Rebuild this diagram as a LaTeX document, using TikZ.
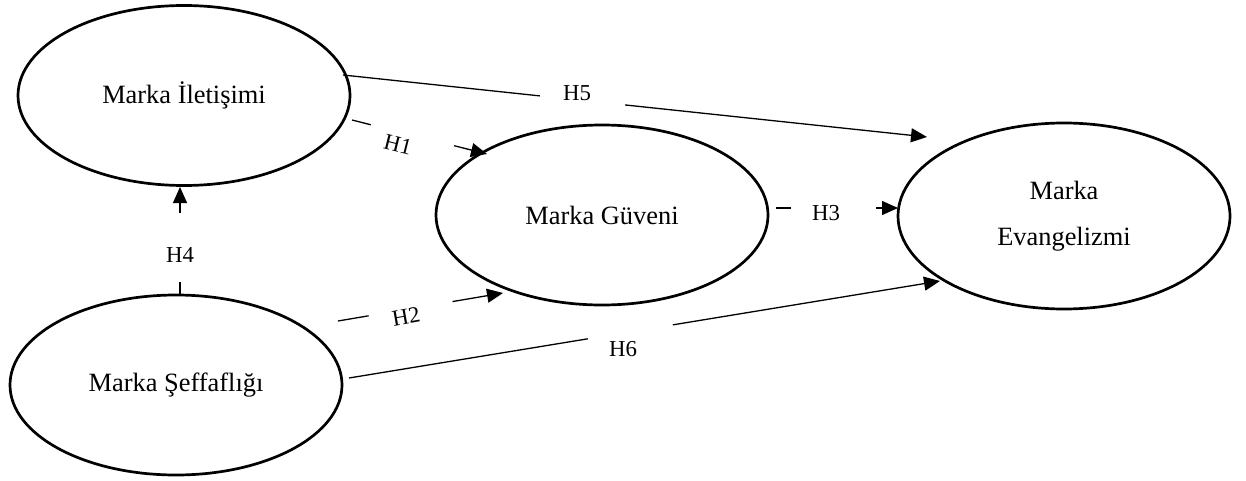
\documentclass[tikz,border=0pt]{standalone}
\usepackage{fontspec}
\setmainfont{Liberation Serif}
\usetikzlibrary{arrows.meta,shapes.geometric}
\begin{document}
\begin{tikzpicture}[x=0.5pt,y=-0.5pt,
  construct/.style={ellipse,draw,line width=1.35pt,inner sep=0pt,outer sep=0pt,
    minimum width=166pt,minimum height=90pt,
    font=\fontsize{13.2}{23}\selectfont,align=center},
  conn/.style={line width=0.65pt},
  arr/.style={conn,-{Triangle[length=8pt,width=7pt]}},
  gap/.style={fill=white,draw=none,inner sep=0pt,minimum width=#1,minimum height=3pt,sloped},
  hlab/.style={font=\fontsize{11.4}{13}\selectfont,inner sep=0pt}
]
\useasboundingbox (0,0) rectangle (1246,481);
\node[construct] (I) at (184,95.5) {Marka İletişimi};
\node[construct] (G) at (602,215) {Marka Güveni};
\node[construct,minimum height=93pt] (E) at (1064,216) {Marka\\Evangelizmi};
\node[construct] (S) at (176,385) {Marka Şeffaflığı};

\coordinate (h5s) at (343,75);
\coordinate (h5e) at (927,137);
\coordinate (h1s) at (352,120);
\coordinate (h1e) at (487,154);
\coordinate (h3s) at (776,208);
\coordinate (h3e) at (898,208);
\coordinate (h4s) at (180,295);
\coordinate (h4e) at (180,187);
\coordinate (h2s) at (338,321);
\coordinate (h2e) at (503,293);
\coordinate (h6s) at (349,378);
\coordinate (h6e) at (940,281);

\draw[arr] (h5s) -- node[gap=42.7pt,pos=0.41]{} (h5e);
\draw[arr] (h1s) -- node[gap=42.8pt,pos=0.448]{} (h1e);
\draw[arr] (h3s) -- node[gap=42.5pt,pos=0.471]{} (h3e);
\draw[arr] (h4s) -- node[gap=34.5pt,pos=0.44]{} (h4e);
\draw[arr] (h2s) -- node[gap=42.5pt,pos=0.44]{} (h2e);
\draw[arr] (h6s) -- node[gap=43pt,pos=0.476]{} (h6e);

\node[hlab] (l5) at (577,93) {H5};
\node[hlab,rotate=-14] (l1) at (398,145) {H1};
\node[hlab] (l3) at (826,213) {H3};
\node[hlab] (l4) at (180,255) {H4};
\node[hlab,rotate=10] (l2) at (406,317) {H2};
\node[hlab] (l6) at (623,349) {H6};
\end{tikzpicture}
\end{document}
